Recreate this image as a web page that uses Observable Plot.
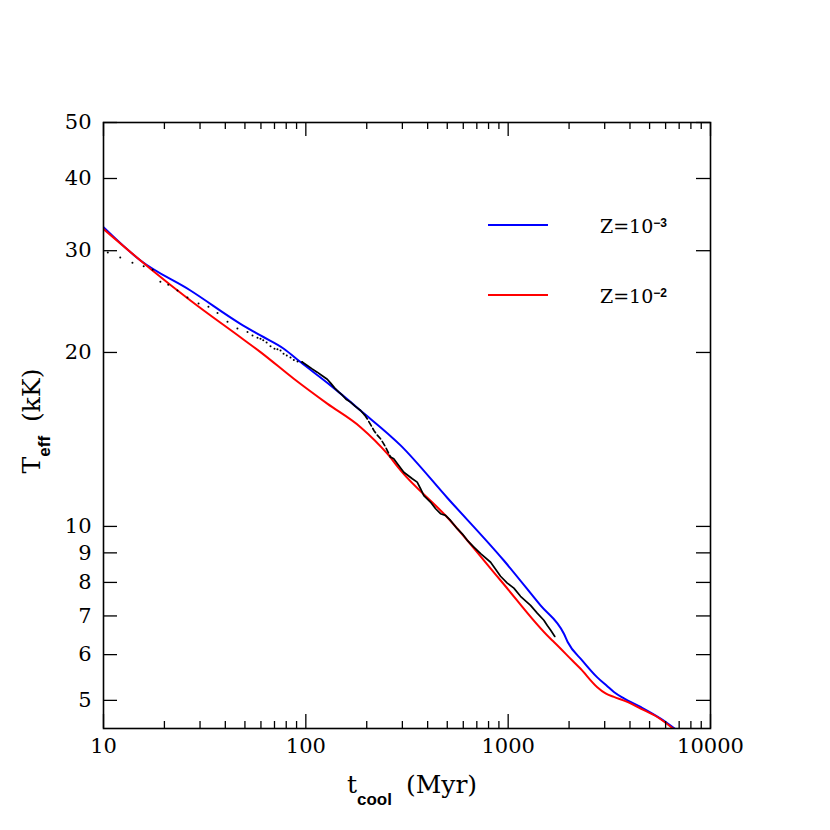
<!DOCTYPE html>
<html><head><meta charset="utf-8">
<script src="https://cdn.jsdelivr.net/npm/d3@7"></script>
<script src="https://cdn.jsdelivr.net/npm/@observablehq/plot@0.6"></script>
<style>body{margin:0;background:#fff;}</style>
</head><body><div id="chart"></div>
<script>
// Z = 1e-3 model (blue)
const blueT    = [10, 15.24, 26.9, 47.5, 59.7, 77.8, 94.1, 132.5, 186.4, 294, 501, 952, 1445, 1886, 1968, 2325, 2757, 3090, 3331, 3733, 4513, 5667, 6723];
const blueTeff = [32.95, 28.85, 25.6, 22.42, 21.4, 20.30, 19.25, 17.54, 15.87, 13.81, 11.2, 8.73, 7.3, 6.52, 6.31, 5.86, 5.48, 5.29, 5.17, 5.04, 4.87, 4.65, 4.456];
// Z = 1e-2 model (red)
const redT    = [10, 17.1, 26.9, 47.5, 59.7, 87.2, 127.6, 186.4, 252.6, 294, 501, 916, 1620, 1683, 2075, 2280, 2757, 3030, 3331, 3879, 4513, 5458, 6597];
const redTeff = [32.7, 27.9, 24.6, 21.25, 20.03, 18.01, 16.31, 14.85, 13.36, 12.5, 10.36, 8.07, 6.39, 6.31, 5.86, 5.67, 5.27, 5.14, 5.07, 4.97, 4.84, 4.68, 4.456];
// black reference curve: dotted part
const blackDotT    = [10.5, 12.1, 13.9, 15.8, 17.5, 19.1, 20.9, 23.2, 26.0, 29.5, 33.0, 36.6, 41.0, 45.9, 51.5, 54.5, 57.7, 59.7, 61.6, 64, 66.9, 70, 72.4, 75, 77.6, 80.5, 84, 87.2, 91, 95.9];
const blackDotTeff = [29.8, 29.2, 28.6, 28.2, 27.8, 26.5, 26.2, 25.6, 24.9, 24.3, 24.0, 23.4, 22.6, 22.0, 21.7, 21.4, 21.2, 21.12, 21.0, 20.8, 20.5, 20.3, 20.25, 20.16, 19.9, 19.75, 19.6, 19.4, 19.3, 19.25];
// black: first solid part
const blackSolidAT    = [95.9, 101.6, 107, 113.8, 120, 127.6, 133, 139, 145.6, 152, 158, 166.3, 175, 186.4, 195];
const blackSolidATeff = [19.25, 18.99, 18.75, 18.49, 18.25, 17.98, 17.68, 17.35, 17.08, 16.85, 16.6, 16.41, 16.15, 15.87, 15.6];
// black: dashed part
const blackDashT    = [195, 201, 209, 216.9, 225, 234, 241, 247.7, 255, 262.2];
const blackDashTeff = [15.6, 15.36, 15.0, 14.66, 14.4, 14.18, 13.95, 13.72, 13.45, 13.18];
// black: second solid part
const blackSolidBT    = [262.2, 272, 283, 305, 336, 355, 369, 383, 413, 438, 463, 490, 519, 560, 593, 628, 677, 731, 819, 917, 990, 1067, 1151, 1290, 1392, 1501, 1561, 1620, 1700];
const blackSolidBTeff = [13.18, 13.09, 12.85, 12.41, 12.09, 11.93, 11.62, 11.31, 11.02, 10.73, 10.52, 10.45, 10.24, 9.91, 9.71, 9.46, 9.21, 8.97, 8.67, 8.2, 7.98, 7.82, 7.57, 7.3, 7.08, 6.88, 6.74, 6.62, 6.45];

const xMajor = [10, 100, 1000, 10000];
const xMinor = [20,30,40,50,60,70,80,90,200,300,400,500,600,700,800,900,2000,3000,4000,5000,6000,7000,8000,9000];
const yTicks = [5, 6, 7, 8, 9, 10, 20, 30, 40, 50];
const legendBase = ["Z=10", "Z=10"];
const legendExp = ["\u22123", "\u22122"];
const legendColors = ["#0000ff", "#ff0000"];

const W = 830, H = 830, mt = 122, mb = 102, ml = 103, mr = 120;
const innerH = H - mt - mb, innerW = W - ml - mr;
const rows = (ts, vs) => ts.map((t, i) => ({t, T: vs[i]}));

const plot = Plot.plot({
  width: W, height: H,
  marginTop: mt, marginBottom: mb, marginLeft: ml, marginRight: mr,
  x: {type: "log", domain: [10, 10000]},
  y: {type: "log", domain: [4.47, 50]},
  style: {fontFamily: "DejaVu Serif", fontSize: "20px", background: "white", color: "black"},
  marks: [
    Plot.line(rows(blueT, blueTeff), {x: "t", y: "T", stroke: "#0000ff", strokeWidth: 2, curve: "monotone-x", clip: true}),
    Plot.line(rows(redT, redTeff), {x: "t", y: "T", stroke: "#ff0000", strokeWidth: 2, curve: "monotone-x", clip: true}),
    Plot.dot(rows(blackDotT, blackDotTeff), {x: "t", y: "T", r: 1, fill: "black", stroke: "none"}),
    Plot.line(rows(blackSolidAT, blackSolidATeff), {x: "t", y: "T", stroke: "black", strokeWidth: 1.7}),
    Plot.line(rows(blackDashT, blackDashTeff), {x: "t", y: "T", stroke: "black", strokeWidth: 1.7, strokeDasharray: "5,3"}),
    Plot.line(rows(blackSolidBT, blackSolidBTeff), {x: "t", y: "T", stroke: "black", strokeWidth: 1.7}),
    Plot.tickX(xMajor, {x: d => d, insetTop: innerH - 14, stroke: "black", strokeWidth: 1.3}),
    Plot.tickX(xMajor, {x: d => d, insetBottom: innerH - 14, stroke: "black", strokeWidth: 1.3}),
    Plot.tickX(xMinor, {x: d => d, insetTop: innerH - 7, stroke: "black", strokeWidth: 1.3}),
    Plot.tickX(xMinor, {x: d => d, insetBottom: innerH - 7, stroke: "black", strokeWidth: 1.3}),
    Plot.tickY(yTicks, {y: d => d, insetRight: innerW - 14, stroke: "black", strokeWidth: 1.3}),
    Plot.tickY(yTicks, {y: d => d, insetLeft: innerW - 14, stroke: "black", strokeWidth: 1.3}),
    Plot.frame({stroke: "black", strokeWidth: 1.6}),
    Plot.axisX(xMajor, {tickSize: 0, tickPadding: 10, tickFormat: d => String(d), label: null, fontSize: 21}),
    Plot.axisY(yTicks, {tickSize: 0, tickPadding: 12, tickFormat: d => String(d), label: null, fontSize: 21})
  ]
});
document.getElementById("chart").appendChild(plot);

const svg = d3.select(plot);
// x axis title
const xt = svg.append("text").attr("x", 412).attr("y", 793).attr("text-anchor", "middle")
  .attr("font-family", "DejaVu Serif").attr("font-size", 25).attr("fill", "black");
xt.append("tspan").text("t");
xt.append("tspan").attr("dy", 12).attr("font-family", "Liberation Sans").attr("font-weight", "bold").attr("font-size", 17).text("cool");
xt.append("tspan").attr("dy", -12).attr("dx", 14).text("(Myr)");
// y axis title
const yt = svg.append("text").attr("transform", "translate(40,421) rotate(-90)").attr("text-anchor", "middle")
  .attr("font-family", "DejaVu Serif").attr("font-size", 25).attr("fill", "black");
yt.append("tspan").text("T");
yt.append("tspan").attr("dy", 10).attr("font-family", "Liberation Sans").attr("font-weight", "bold").attr("font-size", 17).text("eff");
yt.append("tspan").attr("dy", -10).attr("dx", 14).text("(kK)");
// legend
legendBase.forEach((lab, i) => {
  const y = 225 + i * 70;
  svg.append("line").attr("x1", 488).attr("x2", 548).attr("y1", y).attr("y2", y)
    .attr("stroke", legendColors[i]).attr("stroke-width", 2);
  const t = svg.append("text").attr("x", 600).attr("y", y + 8).attr("text-anchor", "start")
    .attr("font-family", "DejaVu Serif").attr("font-size", 19).attr("fill", "black");
  t.append("tspan").text(lab);
  t.append("tspan").attr("dy", -6).attr("font-family", "Liberation Sans").attr("font-weight", "bold").attr("font-size", 12).text(legendExp[i]);
});
</script>
</body></html>
